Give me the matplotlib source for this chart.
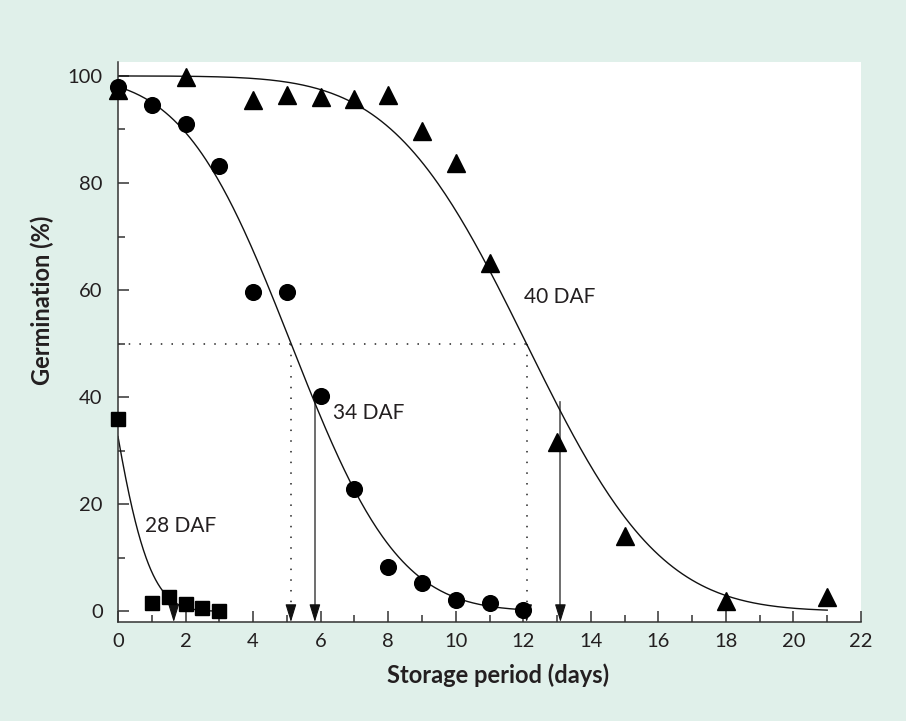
import math
import numpy as np
import matplotlib
matplotlib.use('Agg')
import matplotlib.pyplot as plt
from matplotlib.ticker import MultipleLocator

plt.rcParams['font.family'] = ['Lato', 'DejaVu Sans']

# datos
dias_28 = [0, 1, 1.5, 2, 2.5, 3]
germ_28 = [36, 1.5, 2.6, 1.3, 0.6, 0.0]

dias_34 = [0, 1, 2, 3, 4, 5, 6, 7, 8, 9, 10, 11, 12]
germ_34 = [97.9, 94.6, 91.0, 83.2, 59.6, 59.6, 40.2, 22.8, 8.2, 5.2, 2.2, 1.5, 0.2]

dias_40 = [0, 2, 4, 5, 6, 7, 8, 9, 10, 11, 13, 15, 18, 21]
germ_40 = [97.4, 99.8, 95.5, 96.4, 96.0, 95.7, 96.4, 89.7, 83.7, 65.0, 31.6, 14.0, 1.9, 2.6]

# ajuste probit (Ki, sigma, ultimo dia)
ajuste = {'28': (-0.45, 1.0, 3), '34': (2.05, 2.5, 12), '40': (3.87, 3.125, 21)}

# p50 (linea punteada) y flechas solidas
p50 = [5.12, 12.1]
flechas = [(1.65, 1.0), (5.83, 39.0), (13.1, 39.0)]

etiquetas = [('28 DAF', 0.8, 16), ('34 DAF', 6.37, 37), ('40 DAF', 12.02, 58.7)]

verde = '#e0f0ea'
gris = '#333333'
texto = '#231f20'

erf = np.vectorize(math.erf)


def probit(x, ki, sigma):
    z = ki - x / sigma
    return 50 * (1 + erf(z / math.sqrt(2)))


def flecha(ax, x):
    # cabeza de flecha sobre el eje x
    ax.annotate('', xy=(x, -2), xytext=(x, 1),
                arrowprops=dict(arrowstyle='-|>,head_length=0.55,head_width=0.17',
                                mutation_scale=20, color='#111111', lw=0.8,
                                shrinkA=0, shrinkB=0), zorder=3)


fig = plt.figure(figsize=(9.06, 7.21), dpi=100, facecolor=verde)
ax = fig.add_axes([118 / 906, 1 - 622 / 721, 743 / 906, 560 / 721])
ax.set_facecolor('white')

# curvas
for k, (ki, sigma, fin) in ajuste.items():
    xx = np.linspace(0, fin, 300)
    ax.plot(xx, probit(xx, ki, sigma), color='#111111', lw=1.0, zorder=2)

# lineas punteadas de p50
ax.plot([0, p50[1]], [50, 50], color='#222222', lw=1.1, ls=(0, (1, 6)), zorder=1)
for x in p50:
    ax.plot([x, x], [50, -1], color='#222222', lw=1.1, ls=(0, (1, 6)), zorder=1)
    flecha(ax, x)

# flechas solidas
for x, y0 in flechas:
    ax.plot([x, x], [y0, -1], color='#555555', lw=1.2, zorder=1)
    flecha(ax, x)

# puntos
ax.plot(dias_28, germ_28, 's', color='black', ms=10, clip_on=False, zorder=4)
ax.plot(dias_34, germ_34, 'o', color='black', ms=11.3, clip_on=False, zorder=4)
ax.plot(dias_40, germ_40, '^', color='black', ms=12.5, clip_on=False, zorder=4)

for txt, x, y in etiquetas:
    ax.text(x, y, txt, fontsize=15, color=texto, ha='left', va='center')

ax.set_xlim(0, 22)
ax.set_ylim(-2, 102.6)
ax.xaxis.set_major_locator(MultipleLocator(2))
ax.xaxis.set_minor_locator(MultipleLocator(1))
ax.set_yticks([0, 20, 40, 60, 80, 100])
ax.set_yticks(np.arange(10, 100, 20), minor=True)

for s in ['top', 'right']:
    ax.spines[s].set_visible(False)
for s in ['left', 'bottom']:
    ax.spines[s].set_color(gris)
    ax.spines[s].set_linewidth(1.1)

ax.tick_params(which='both', direction='in', color=gris, width=1.1,
               labelsize=14.5, labelcolor=texto)
ax.tick_params(which='major', length=8)
ax.tick_params(which='minor', length=5)
ax.tick_params(axis='x', pad=8)
ax.tick_params(axis='y', pad=11)

ax.set_xlabel('Storage period (days)', fontsize=17, fontweight='bold', color=texto)
ax.set_ylabel('Germination (%)', fontsize=17, fontweight='bold', color=texto)
ax.xaxis.set_label_coords(0.511, -0.095)
ax.xaxis.label.set_va('center')
ax.yaxis.set_label_coords(-0.102, 0.575)
ax.yaxis.label.set_va('center')

plt.savefig('out.png', dpi=100, facecolor=verde)
